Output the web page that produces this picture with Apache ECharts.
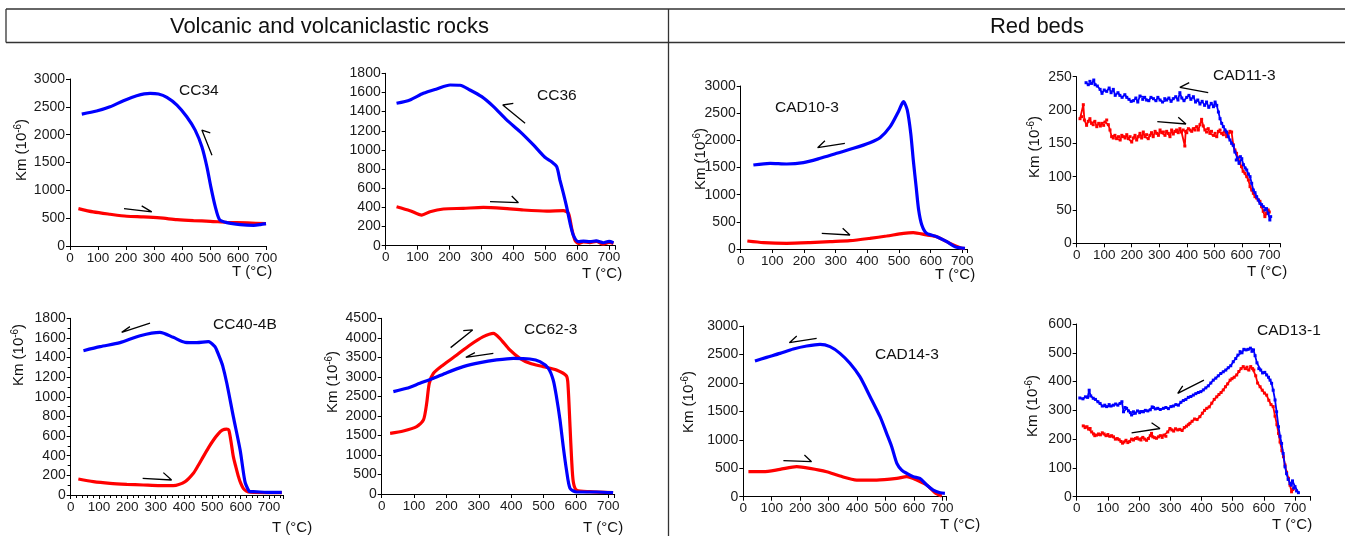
<!DOCTYPE html>
<html><head><meta charset="utf-8">
<script src="https://cdn.jsdelivr.net/npm/echarts@6.0.0/dist/echarts.min.js"></script>
<style>html,body{margin:0;padding:0;background:#fff;}#c{width:1345px;height:536px;}</style>
</head><body><div id="c"></div><script>
// ---------- DATA: [temperature °C, Km (10^-6)] ----------
const xTickLabels = [0,100,200,300,400,500,600,700];
const sampleNames = ['CC34','CC36','CAD10-3','CAD11-3','CC40-4B','CC62-3','CAD14-3','CAD13-1'];
const groupTitles = ['Volcanic and volcaniclastic rocks','Red beds'];

const cc34Heating = [[30,672],[83,612],[143,570],[203,534],[262,522],[322,504],[382,474],[441,456],[501,444],[560,426],[632,414],[700,402]];
const cc34Cooling = [[700,402],[680,385],[656,372],[608,384],[560,420],[534,474],[519,702],[503,1062],[489,1422],[471,1782],[447,2082],[417,2322],[382,2532],[346,2670],[316,2730],[286,2742],[238,2700],[191,2610],[143,2500],[95,2424],[42,2370]];

const cc36Heating = [[34,407],[76,366],[113,320],[139,355],[181,383],[243,390],[306,400],[369,390],[432,373],[505,362],[557,366],[573,338],[583,181],[593,59],[604,24],[620,40],[640,31],[660,45],[682,17],[700,35],[714,24]];
const cc36Cooling = [[714,31],[700,45],[682,31],[660,50],[640,42],[620,48],[604,42],[588,111],[578,233],[567,407],[557,547],[546,686],[536,825],[520,877],[499,923],[463,1052],[421,1191],[379,1313],[338,1452],[301,1556],[264,1626],[233,1675],[202,1678],[160,1637],[118,1591],[76,1522],[34,1487]];

const cad10Heating = [[21,147],[72,117],[145,104],[219,117],[282,135],[345,153],[408,196],[461,239],[514,288],[545,301],[587,258],[619,227],[661,104],[693,25],[708,6]];
const cad10Cooling = [[708,12],[677,43],[651,135],[619,227],[587,288],[572,442],[562,718],[554,1147],[545,1638],[537,2129],[526,2558],[514,2712],[498,2528],[472,2252],[440,2049],[408,1957],[356,1853],[303,1761],[251,1669],[198,1589],[145,1564],[93,1577],[40,1546]];

const cad11Heating = [[12,187],[18,190],[24,208],[28,185],[36,177],[42,183],[48,187],[54,180],[60,178],[66,183],[73,175],[80,180],[86,176],[91,180],[98,177],[103,182],[109,185],[115,178],[121,170],[127,160],[133,158],[139,162],[145,157],[152,160],[158,155],[164,162],[170,160],[176,158],[182,163],[188,157],[194,160],[200,152],[206,158],[212,162],[218,155],[224,160],[230,165],[236,158],[242,167],[248,160],[254,163],[260,157],[266,162],[272,166],[278,160],[285,168],[291,165],[297,162],[303,170],[309,166],[315,167],[321,162],[327,168],[333,165],[339,160],[345,170],[351,164],[357,168],[363,170],[369,166],[375,172],[381,167],[387,170],[393,146],[396,168],[400,166],[406,172],[412,170],[418,168],[424,172],[430,170],[436,175],[442,170],[448,178],[454,186],[460,176],[466,170],[472,167],[478,172],[484,165],[490,168],[497,162],[503,165],[509,160],[515,168],[521,170],[527,165],[533,163],[539,168],[545,160],[551,165],[557,168],[563,167],[569,148],[575,140],[581,135],[587,128],[593,120],[599,115],[605,108],[612,105],[618,100],[624,95],[630,85],[636,80],[642,75],[648,70],[654,68],[660,65],[666,63],[672,55],[678,48],[684,40],[690,45],[696,50],[700,47]];
const cad11Cooling = [[705,40],[702,35],[696,45],[690,52],[684,50],[678,55],[672,58],[666,60],[660,65],[654,70],[648,76],[642,80],[636,90],[630,100],[624,104],[618,110],[612,113],[606,118],[600,127],[595,130],[590,120],[584,128],[580,125],[575,137],[569,147],[563,150],[557,155],[551,160],[545,167],[539,170],[533,175],[527,180],[521,187],[515,197],[509,207],[503,212],[497,205],[489,210],[480,204],[472,212],[465,207],[456,213],[448,209],[440,215],[432,212],[424,220],[415,216],[408,222],[400,219],[390,214],[382,218],[375,226],[368,215],[360,220],[351,217],[343,213],[335,218],[327,215],[320,217],[312,212],[303,215],[295,219],[288,214],[279,217],[270,219],[262,214],[254,215],[247,219],[240,216],[230,221],[222,212],[215,218],[206,214],[198,213],[190,216],[182,219],[175,223],[165,219],[157,222],[150,226],[140,222],[133,231],[125,226],[118,233],[109,228],[100,230],[92,225],[85,231],[75,236],[67,238],[62,245],[55,240],[48,243],[42,238],[34,241]];

const cc40Heating = [[27,163],[80,136],[139,119],[198,109],[256,102],[315,95],[362,95],[404,136],[433,221],[450,300],[468,391],[486,480],[504,560],[520,620],[535,660],[550,672],[558,662],[566,540],[574,391],[583,285],[592,187],[600,120],[609,68],[620,40],[635,28],[692,24],[745,24]];
const cc40Cooling = [[745,27],[692,27],[645,34],[633,34],[627,51],[615,136],[598,458],[574,798],[551,1138],[536,1320],[527,1392],[515,1477],[509,1511],[486,1562],[445,1552],[404,1555],[362,1606],[315,1657],[245,1623],[174,1552],[104,1511],[45,1470]];

const cc62Heating = [[26,1554],[67,1614],[108,1725],[129,1896],[139,2323],[147,2835],[160,3091],[190,3305],[232,3561],[273,3817],[314,4030],[345,4116],[365,3988],[396,3689],[427,3475],[458,3347],[499,3262],[540,3177],[571,3023],[576,2750],[582,1725],[587,871],[592,316],[602,102],[643,60],[715,34]];
const cc62Cooling = [[715,34],[664,51],[602,51],[582,145],[571,615],[561,1213],[551,1896],[540,2493],[530,2920],[515,3219],[489,3390],[458,3458],[407,3475],[355,3433],[304,3364],[252,3262],[201,3108],[160,2963],[118,2835],[77,2707],[36,2622]];

const cad14Heating = [[18,439],[70,439],[129,480],[188,527],[234,498],[293,439],[340,363],[399,293],[469,293],[540,322],[575,352],[610,293],[645,205],[674,70],[698,12]];
const cad14Cooling = [[709,59],[692,70],[668,117],[645,205],[621,322],[598,352],[575,410],[557,469],[540,586],[522,879],[504,1113],[481,1406],[446,1758],[410,2109],[375,2344],[340,2519],[305,2637],[270,2678],[223,2648],[176,2596],[129,2519],[82,2449],[41,2385]];

const cad13Heating = [[21,246],[27,240],[33,243],[38,235],[43,237],[48,225],[54,218],[58,212],[64,214],[70,218],[76,215],[82,222],[88,218],[94,212],[100,216],[106,210],[112,212],[118,208],[124,200],[130,202],[136,198],[142,192],[147,186],[152,190],[158,196],[164,188],[170,192],[176,200],[182,197],[188,202],[194,205],[200,200],[206,197],[212,206],[218,200],[224,196],[230,202],[236,212],[240,220],[244,208],[250,205],[256,203],[262,208],[268,212],[274,206],[280,214],[286,210],[292,225],[299,237],[305,232],[311,228],[317,236],[324,232],[331,234],[338,230],[345,240],[352,245],[358,250],[363,255],[370,262],[378,270],[386,268],[395,278],[403,290],[410,300],[417,307],[425,312],[433,325],[441,338],[449,347],[456,355],[463,362],[470,371],[477,382],[484,392],[492,405],[498,410],[505,415],[513,423],[520,435],[527,445],[534,452],[540,445],[546,450],[552,440],[558,452],[564,445],[568,440],[574,420],[580,395],[588,382],[595,370],[602,360],[609,353],[616,335],[623,320],[630,313],[636,280],[642,250],[647,220],[652,190],[658,160],[663,139],[668,110],[673,85],[679,64],[684,40],[689,17],[693,25],[697,30]];
const cad13Cooling = [[711,14],[705,20],[700,35],[696,30],[692,55],[688,40],[684,46],[678,60],[673,80],[668,104],[662,150],[657,185],[652,210],[647,243],[641,295],[636,336],[630,370],[625,394],[620,405],[615,415],[609,423],[603,432],[596,430],[590,440],[584,445],[578,465],[572,490],[567,510],[562,505],[557,516],[550,512],[543,510],[536,512],[530,500],[524,504],[517,492],[510,480],[502,469],[494,455],[486,448],[478,440],[470,434],[462,428],[454,420],[446,412],[438,405],[430,395],[422,385],[414,378],[406,371],[398,365],[390,362],[382,358],[374,353],[366,348],[358,345],[350,338],[342,334],[334,328],[326,318],[318,320],[310,315],[302,313],[294,306],[286,310],[278,307],[268,303],[260,307],[252,305],[246,310],[242,312],[236,302],[228,298],[220,300],[214,295],[208,296],[202,292],[195,298],[188,290],[182,295],[176,284],[172,292],[166,298],[160,307],[155,310],[150,295],[145,330],[139,324],[132,318],[125,322],[118,318],[110,315],[104,320],[96,313],[90,318],[82,315],[75,324],[68,330],[60,338],[53,342],[45,350],[40,370],[35,345],[28,347],[20,340],[10,343]];

// direction arrows (data coordinates)
const cc34Arrows  = [[[193,672],[292,612],[256,720]], [[501,2034],[471,2082],[507,1632]]];
const cc36Arrows  = [[[327,460],[416,449],[395,519]], [[400,1487],[367,1469],[437,1278]]];
const cad10Arrows = [[[256,288],[345,258],[322,380]], [[266,1994],[243,1865],[329,1945]]];
const cad11Arrows = [[[293,182.5],[397,179],[369,189]], [[409,241],[375,234],[478,226]]];
const cc40Arrows  = [[[254,170],[356,153],[327,228]], [[209,1715],[180,1657],[280,1752]]];
const cc62Arrows  = [[[213,3749],[281,4201],[252,4184]], [[288,3621],[260,3501],[345,3604]]];
const cad14Arrows = [[[141,633],[240,615],[215,732]], [[188,2824],[162,2707],[258,2783]]];
const cad13Arrows = [[[176,222],[267,237],[240,257]], [[340,385],[324,359],[408,405]]];

// ---------- LAYOUT ----------
const FF = '"Liberation Sans", Arial, Helvetica, sans-serif';
const RED = '#ff0000', BLUE = '#0000ff';
const panels = [
  {heat:cc34Heating, cool:cc34Cooling, arrows:cc34Arrows, g:[70,79,196,167], xMax:700, yMax:3000, yInt:500, t:[179,92], tc:[232,272], km:[22,150], noisy:false},
  {heat:cc36Heating, cool:cc36Cooling, arrows:cc36Arrows, g:[385.7,73.3,229.7,172.4], xMax:720, yMax:1800, yInt:200, t:[537,97.5], tc:[582,274], km:null, noisy:false},
  {heat:cad10Heating, cool:cad10Cooling, arrows:cad10Arrows, g:[740.7,86,226.4,163], xMax:715, yMax:3000, yInt:500, t:[775,109], tc:[935,275], km:[701,159], noisy:false},
  {heat:cad11Heating, cool:cad11Cooling, arrows:cad11Arrows, g:[1076.7,76.7,203.6,166.6], xMax:740, yMax:250, yInt:50, t:[1213,77], tc:[1247,271.5], km:[1035,147], noisy:true},
  {heat:cc40Heating, cool:cc40Cooling, arrows:cc40Arrows, g:[70.7,318.3,212.5,176.7], xMax:750, yMax:1800, yInt:200, t:[213,326], tc:[272,528], km:[19,355], noisy:false, minor:true},
  {heat:cc62Heating, cool:cc62Cooling, arrows:cc62Arrows, g:[381.7,318.3,233,175.7], xMax:720, yMax:4500, yInt:500, t:[524,331], tc:[583,528], km:[333,382], noisy:false},
  {heat:cad14Heating, cool:cad14Cooling, arrows:cad14Arrows, g:[743.3,326,203.3,170.7], xMax:715, yMax:3000, yInt:500, t:[875,356], tc:[940,525], km:[689,402], noisy:false},
  {heat:cad13Heating, cool:cad13Cooling, arrows:cad13Arrows, g:[1076.7,324,233.9,172.7], xMax:750, yMax:600, yInt:100, t:[1257,332], tc:[1272,525], km:[1033,406], noisy:true}
];

const grids=[], xAxes=[], yAxes=[], series=[], titles=[], graphics=[];
panels.forEach((p,i)=>{
  grids.push({left:p.g[0], top:p.g[1], width:p.g[2], height:p.g[3], containLabel:false});
  xAxes.push({gridIndex:i, type:'value', min:0, max:p.xMax, interval:100,
    axisLine:{show:true, onZero:false, lineStyle:{color:'#000', width:1}},
    axisTick:{show:true, length:4, lineStyle:{color:'#000'}},
    minorTick: p.minor ? {show:true, splitNumber:5, length:3, lineStyle:{color:'#000'}} : {show:false},
    splitLine:{show:false},
    axisLabel:{fontSize:13.5, color:'#1a1a1a', fontFamily:FF, margin:5,
      formatter: v => (xTickLabels.indexOf(v) >= 0 ? String(v) : '')}
  });
  yAxes.push({gridIndex:i, type:'value', min:0, max:p.yMax, interval:p.yInt,
    axisLine:{show:true, onZero:false, lineStyle:{color:'#000', width:1}},
    axisTick:{show:true, length:4, lineStyle:{color:'#000'}},
    minorTick: p.minor ? {show:true, splitNumber:2, length:3, lineStyle:{color:'#000'}} : {show:false},
    splitLine:{show:false},
    axisLabel:{fontSize:14, color:'#1a1a1a', fontFamily:FF, margin:5, formatter: v => String(v)}
  });
  const lw = p.noisy ? 1.8 : 3.2;
  const mk = p.noisy ? {symbol:'rect', symbolSize:3, showSymbol:true} : {symbol:'none', showSymbol:false};
  series.push(Object.assign({type:'line', xAxisIndex:i, yAxisIndex:i, data:p.heat, smooth:p.noisy?false:0.25,
    lineStyle:{color:RED, width:lw}, itemStyle:{color:RED}, silent:true, animation:false, z:2}, mk));
  series.push(Object.assign({type:'line', xAxisIndex:i, yAxisIndex:i, data:p.cool, smooth:p.noisy?false:0.25,
    lineStyle:{color:BLUE, width:lw}, itemStyle:{color:BLUE}, silent:true, animation:false, z:3}, mk));
  p.arrows.forEach(a => series.push({type:'line', xAxisIndex:i, yAxisIndex:i, data:a, symbol:'none', showSymbol:false,
    lineStyle:{color:'#000', width:1.3}, silent:true, animation:false, z:5}));
  titles.push({text:sampleNames[i], left:p.t[0], top:p.t[1]-9.5, padding:0,
    textStyle:{fontSize:15.5, fontWeight:'normal', color:'#111', fontFamily:FF}});
  graphics.push({type:'text', x:p.tc[0], y:p.tc[1], style:{text:'T (°C)', font:'15px '+FF, fill:'#111', align:'left', verticalAlign:'middle'}});
  if (p.km) {
    graphics.push({type:'text', x:p.km[0], y:p.km[1], rotation:Math.PI/2,
      style:{text:'{a|Km (10}{s|-6}{a|)}', align:'center', verticalAlign:'middle', fill:'#111',
        rich:{a:{fontSize:15, fontFamily:FF, fill:'#111', lineHeight:18},
              s:{fontSize:10, fontFamily:FF, fill:'#111', lineHeight:18, verticalAlign:'top'}}}});
  }
});

// header frame and divider
const lineStyle = {stroke:'#333', lineWidth:1.3};
graphics.push({type:'line', shape:{x1:6, y1:9, x2:1345, y2:9}, style:lineStyle});
graphics.push({type:'line', shape:{x1:6, y1:42.5, x2:1345, y2:42.5}, style:lineStyle});
graphics.push({type:'line', shape:{x1:6, y1:9, x2:6, y2:42.5}, style:lineStyle});
graphics.push({type:'line', shape:{x1:668.5, y1:9, x2:668.5, y2:536}, style:lineStyle});
graphics.push({type:'text', x:329.5, y:26.5, style:{text:groupTitles[0], font:'22px '+FF, fill:'#111', align:'center', verticalAlign:'middle'}});
graphics.push({type:'text', x:1037, y:26.5, style:{text:groupTitles[1], font:'22px '+FF, fill:'#111', align:'center', verticalAlign:'middle'}});

const chart = echarts.init(document.getElementById('c'), null, {renderer:'canvas'});
chart.setOption({
  animation:false, backgroundColor:'#fff',
  title:titles, grid:grids, xAxis:xAxes, yAxis:yAxes, series:series, graphic:graphics
});
</script></body></html>
